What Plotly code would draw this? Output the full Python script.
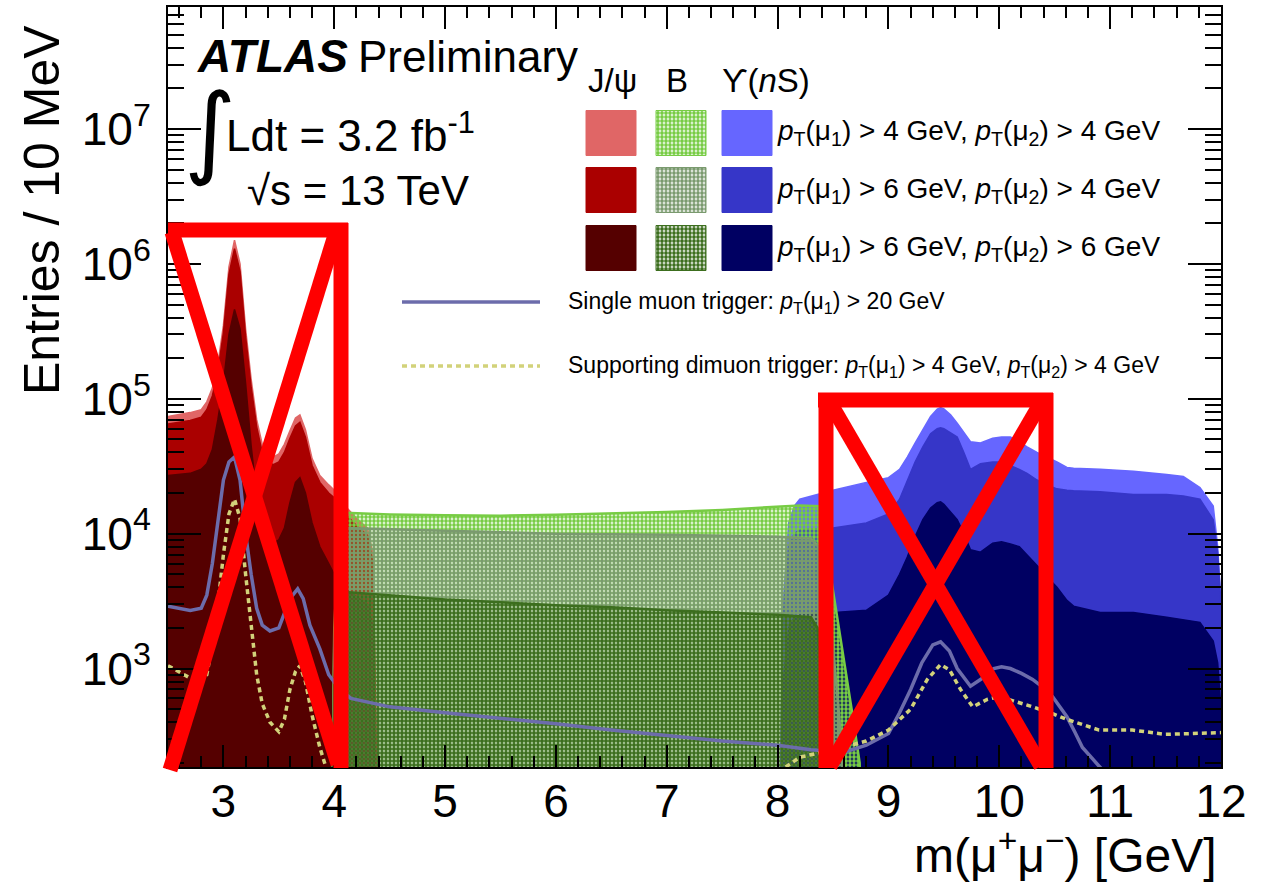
import plotly.graph_objects as go

# ---------------- data ----------------
JPSI_X = [2.50, 2.60, 2.70, 2.80, 2.85, 2.90, 2.95, 3.00, 3.05, 3.10, 3.15, 3.20, 3.25, 3.30, 3.35, 3.40,
          3.45, 3.50, 3.55, 3.60, 3.65, 3.69, 3.74, 3.80, 3.87, 3.95, 4.00, 4.10, 4.20, 4.30, 4.35, 4.40]
JPSI_PT44 = [7.4e4, 7.6e4, 7.9e4, 8.3e4, 9.5e4, 1.2e5, 1.8e5, 3.5e5, 9.5e5, 1.5e6, 1.0e6, 3.3e5, 1.4e5, 7.0e4, 4.6e4, 3.9e4,
             3.7e4, 3.9e4, 4.6e4, 5.8e4, 7.2e4, 7.6e4, 5.9e4, 3.6e4, 2.7e4, 2.3e4, 2.1e4, 1.6e4, 1.3e4, 1.1e4, 7.0e3, 30]
JPSI_PT64 = [6.5e4, 6.7e4, 6.9e4, 7.3e4, 8.3e4, 1.05e5, 1.6e5, 3.1e5, 8.4e5, 1.3e6, 8.8e5, 2.9e5, 1.23e5, 6.2e4, 4.0e4, 3.4e4,
             3.25e4, 3.4e4, 4.0e4, 5.1e4, 6.3e4, 6.7e4, 5.2e4, 3.2e4, 2.4e4, 2.0e4, 1.85e4, 1.4e4, 1.15e4, 9.7e3, 6.0e3, 25]
JPSI_PT66 = [2.7e4, 2.75e4, 2.8e4, 3.0e4, 3.3e4, 4.2e4, 7.0e4, 1.3e5, 3.0e5, 4.6e5, 3.3e5, 1.3e5, 4.5e4, 1.9e4, 1.1e4, 9.0e3,
             8.5e3, 9.0e3, 1.1e4, 1.7e4, 2.4e4, 2.6e4, 2.0e4, 1.2e4, 8.0e3, 6.0e3, 5.0e3, 4.0e3, 3.4e3, 3.0e3, 2.0e3, 10]

B44_X = [3.97, 4.00, 4.03, 4.07, 4.10, 4.50, 5.00, 5.50, 6.00, 6.50, 7.00, 7.50, 8.00, 8.20, 8.38, 8.45,
         8.50, 8.55, 8.62, 8.68, 8.74, 8.77]
B_PT44 = [10, 2.0e3, 6.0e3, 1.2e4, 1.43e4, 1.39e4, 1.37e4, 1.36e4, 1.38e4, 1.41e4, 1.45e4, 1.5e4, 1.58e4, 1.62e4, 1.6e4, 7.0e3,
          3.8e3, 2.1e3, 9.4e2, 4.3e2, 2.0e2, 10]
B64_X = [3.97, 4.00, 4.04, 4.08, 4.10, 5.00, 6.00, 7.00, 8.00, 8.30, 8.40, 8.45, 8.50, 8.55, 8.60, 8.63]
B_PT64 = [10, 1.5e3, 6.0e3, 1.05e4, 1.1e4, 1.05e4, 1.0e4, 9.8e3, 9.5e3, 9.2e3, 7.5e3, 4.0e3, 1.5e3, 5.0e2, 1.5e2, 10]
B66_X = [3.97, 4.00, 4.04, 4.08, 4.10, 4.50, 5.00, 5.50, 6.00, 6.50, 7.00, 7.50, 8.00, 8.30, 8.36, 8.42, 8.48, 8.51]
B_PT66 = [10, 8.0e2, 2.5e3, 3.6e3, 3.7e3, 3.5e3, 3.25e3, 3.1e3, 2.95e3, 2.85e3, 2.7e3, 2.6e3, 2.5e3, 2.4e3, 2.0e3, 6.0e2, 1.5e2, 10]

UPS_X = [8.00, 8.05, 8.10, 8.15, 8.20, 8.50, 8.80, 9.00, 9.10, 9.17, 9.24, 9.31, 9.38, 9.44, 9.47, 9.50,
         9.56, 9.62, 9.68, 9.74, 9.83, 9.94, 10.02, 10.10, 10.18, 10.25, 10.34, 10.43, 10.52, 10.61, 10.67, 10.91,
         11.21, 11.51, 11.66, 11.81, 11.93, 11.97, 12.00]
UPS_PT44 = [10, 3.0e3, 1.2e4, 1.6e4, 1.8e4, 2.1e4, 2.4e4, 2.6e4, 3.0e4, 3.7e4, 4.7e4, 5.9e4, 7.4e4, 8.4e4, 8.6e4, 8.4e4,
            7.6e4, 6.6e4, 5.6e4, 4.8e4, 4.7e4, 5.1e4, 5.2e4, 5.2e4, 4.8e4, 4.4e4, 4.0e4, 3.7e4, 3.4e4, 3.1e4, 3.05e4, 3.0e4,
            2.9e4, 2.75e4, 2.65e4, 2.2e4, 1.6e4, 8.0e3, 3.0e3]
UPS_PT64 = [10, 2.5e3, 8.0e3, 1.0e4, 1.07e4, 1.1e4, 1.2e4, 1.4e4, 1.8e4, 2.5e4, 3.4e4, 4.4e4, 5.5e4, 6.0e4, 6.1e4, 6.0e4,
            5.6e4, 5.2e4, 4.0e4, 3.0e4, 3.3e4, 3.4e4, 3.4e4, 3.2e4, 3.0e4, 2.8e4, 2.5e4, 2.3e4, 2.15e4, 2.1e4, 2.08e4, 2.05e4,
            1.95e4, 1.95e4, 1.9e4, 1.8e4, 1.27e4, 7.2e3, 3.0e3]
UPS_PT66 = [10, 8.0e2, 2.0e3, 2.4e3, 2.5e3, 2.6e3, 2.7e3, 3.5e3, 5.0e3, 6.7e3, 9.5e3, 1.27e4, 1.55e4, 1.7e4, 1.72e4, 1.65e4,
            1.45e4, 1.27e4, 1.0e4, 7.6e3, 7.3e3, 8.5e3, 8.7e3, 8.4e3, 8.0e3, 7.0e3, 5.8e3, 4.8e3, 4.0e3, 3.2e3, 2.9e3, 2.6e3,
            2.6e3, 2.4e3, 2.3e3, 2.2e3, 1.6e3, 1.1e3, 5.0e2]

MU20_X = [2.50, 2.60, 2.70, 2.80, 2.85, 2.90, 2.95, 3.00, 3.05, 3.10, 3.15, 3.20, 3.25, 3.30, 3.35, 3.42,
          3.50, 3.55, 3.60, 3.67, 3.72, 3.78, 3.87, 3.95, 4.05, 4.15, 4.50, 5.00, 5.50, 6.00, 6.50, 7.00,
          7.50, 8.00, 8.30, 8.60, 8.80, 9.00, 9.10, 9.20, 9.30, 9.40, 9.47, 9.55, 9.62, 9.74, 9.85, 9.95,
          10.02, 10.10, 10.20, 10.30, 10.40, 10.48, 10.55, 10.61, 10.68, 10.75, 10.85, 10.95, 11.20, 11.50, 12.00]
MU20_Y = [2.9e3, 2.8e3, 2.7e3, 2.8e3, 3.5e3, 6.0e3, 1.3e4, 2.5e4, 3.4e4, 3.7e4, 2.5e4, 1.0e4, 5.0e3, 2.8e3, 2.1e3, 1.9e3,
          2.0e3, 2.6e3, 3.3e3, 3.9e3, 3.3e3, 2.1e3, 1.4e3, 9.0e2, 7.0e2, 6.0e2, 5.2e2, 4.7e2, 4.3e2, 3.9e2, 3.5e2, 3.2e2,
          2.9e2, 2.7e2, 2.5e2, 2.4e2, 2.7e2, 3.3e2, 4.7e2, 7.0e2, 1.1e3, 1.5e3, 1.58e3, 1.35e3, 1.0e3, 7.4e2, 8.5e2, 1.0e3,
          1.03e3, 1.0e3, 9.2e2, 8.3e2, 7.2e2, 6.2e2, 5.2e2, 4.4e2, 3.4e2, 2.6e2, 2.1e2, 1.7e2, 1.5e2, 1.3e2, 1.1e2]

DIMU_X = [2.50, 2.60, 2.70, 2.80, 2.85, 2.90, 2.95, 3.00, 3.05, 3.10, 3.15, 3.20, 3.25, 3.30, 3.35, 3.42,
          3.50, 3.55, 3.60, 3.65, 3.69, 3.74, 3.80, 3.87, 3.93, 4.00, 4.20, 5.00, 6.00, 7.00, 7.80, 8.00,
          8.20, 8.50, 8.80, 9.00, 9.20, 9.35, 9.47, 9.55, 9.65, 9.76, 9.89, 10.00, 10.16, 10.30, 10.46, 10.61,
          10.90, 11.20, 11.50, 11.75, 12.00]
DIMU_Y = [1.05e3, 9.5e2, 8.5e2, 8.0e2, 9.0e2, 1.5e3, 3.0e3, 7.0e3, 1.4e4, 1.8e4, 1.3e4, 5.0e3, 2.0e3, 9.0e2, 5.5e2, 4.0e2,
          3.4e2, 4.2e2, 7.0e2, 9.5e2, 1.05e3, 8.0e2, 4.5e2, 2.6e2, 1.8e2, 1.2e2, 9.0e1, 7.0e1, 7.0e1, 9.0e1, 1.3e2, 1.7e2,
          2.2e2, 2.5e2, 2.9e2, 3.5e2, 5.0e2, 8.3e2, 1.07e3, 9.8e2, 7.0e2, 5.2e2, 5.9e2, 6.2e2, 5.6e2, 5.2e2, 4.7e2, 4.2e2,
          3.5e2, 3.5e2, 3.25e2, 3.3e2, 3.35e2]

X_TICKS = [3, 4, 5, 6, 7, 8, 9, 10, 11, 12]
Y_TICKS = [1e3, 1e4, 1e5, 1e6, 1e7]
Y_TICK_TEXT = ["10<sup>3</sup>", "10<sup>4</sup>", "10<sup>5</sup>", "10<sup>6</sup>", "10<sup>7</sup>"]

CUT_LABELS = ["<i>p</i><sub>T</sub>(μ<sub>1</sub>) > 4 GeV, <i>p</i><sub>T</sub>(μ<sub>2</sub>) > 4 GeV",
              "<i>p</i><sub>T</sub>(μ<sub>1</sub>) > 6 GeV, <i>p</i><sub>T</sub>(μ<sub>2</sub>) > 4 GeV",
              "<i>p</i><sub>T</sub>(μ<sub>1</sub>) > 6 GeV, <i>p</i><sub>T</sub>(μ<sub>2</sub>) > 6 GeV"]
HEADERS = ["J/ψ", "B", "ϒ(<i>n</i>S)"]

# ---------------- styles ----------------
RED = ["#e06666", "#aa0000", "#550000"]
GREEN = ["#77cc44", "#7a9a6e", "#3c6e1e"]
BLUE = ["#6666ff", "#3636c8", "#000062"]
MU20_COLOR = "#6c6cab"
DIMU_COLOR = "#d2d27a"
FONT = "Liberation Sans, Arial, Helvetica, sans-serif"

W, H = 1266, 886
PL, PR, PT, PB = 168, 1221, 7, 767


def fx(p):
    return (p - PL) / (PR - PL)


def fy(p):
    return (PB - p) / (PB - PT)


fig = go.Figure()


def add_hist(x, y, color, pattern=False):
    kw = dict(x=x, y=y, mode="lines", line=dict(color=color, width=1.5), fill="tozeroy",
              fillcolor=color, showlegend=False, hoverinfo="skip")
    if pattern:
        kw["fillpattern"] = dict(shape=".", size=4, solidity=0.7, fgcolor=color,
                                 bgcolor="rgba(0,0,0,0)", fillmode="replace")
        kw["line"] = dict(color=color, width=2.5)
    fig.add_trace(go.Scatter(**kw))


for yv, c in zip([JPSI_PT44, JPSI_PT64, JPSI_PT66], RED):
    add_hist(JPSI_X, yv, c)
for yv, c in zip([UPS_PT44, UPS_PT64, UPS_PT66], BLUE):
    add_hist(UPS_X, yv, c)
for xv, yv, c in zip([B44_X, B64_X, B66_X], [B_PT44, B_PT64, B_PT66], GREEN):
    add_hist(xv, yv, c, pattern=True)

fig.add_trace(go.Scatter(x=MU20_X, y=MU20_Y, mode="lines", line=dict(color=MU20_COLOR, width=3.5),
                         showlegend=False, hoverinfo="skip"))
fig.add_trace(go.Scatter(x=DIMU_X, y=DIMU_Y, mode="lines",
                         line=dict(color=DIMU_COLOR, width=3.5, dash="5px,4px"),
                         showlegend=False, hoverinfo="skip"))

# ---------------- custom legend (overlay axes in paper units) ----------------
col_cx = [611, 681, 747]
row_cy = [133, 190, 248]
bw, bh = 50, 45
for ci, cols in enumerate([RED, GREEN, BLUE]):
    for ri in range(3):
        x0, x1 = fx(col_cx[ci] - bw / 2), fx(col_cx[ci] + bw / 2)
        y0, y1 = fy(row_cy[ri] + bh / 2), fy(row_cy[ri] - bh / 2)
        kw = dict(x=[x0, x1, x1, x0, x0], y=[y0, y0, y1, y1, y0], xaxis="x2", yaxis="y2",
                  mode="lines", fill="toself", fillcolor=cols[ri], line=dict(color=cols[ri], width=1),
                  showlegend=False, hoverinfo="skip")
        if ci == 1:
            kw["fillpattern"] = dict(shape=".", size=4, solidity=0.7, fgcolor=cols[ri],
                                     bgcolor="rgba(0,0,0,0)", fillmode="replace")
        fig.add_trace(go.Scatter(**kw))

fig.add_trace(go.Scatter(x=[fx(402), fx(540)], y=[fy(302), fy(302)], xaxis="x2", yaxis="y2", mode="lines",
                         line=dict(color=MU20_COLOR, width=3.5), showlegend=False, hoverinfo="skip"))
fig.add_trace(go.Scatter(x=[fx(402), fx(540)], y=[fy(366), fy(366)], xaxis="x2", yaxis="y2", mode="lines",
                         line=dict(color=DIMU_COLOR, width=3.5, dash="5px,4px"), showlegend=False,
                         hoverinfo="skip"))

ann = []


def text(t, xp, yp, size, xanchor="left", family=FONT, yanchor="middle", **kw):
    ann.append(dict(text=t, x=fx(xp), y=fy(yp), xref="paper", yref="paper", xanchor=xanchor,
                    yanchor=yanchor, showarrow=False, font=dict(family=family, size=size, color="black"), **kw))


text("<b><i>ATLAS</i></b>", 195, 56, 46)
text("Preliminary", 356, 56, 44)
text("∫", 182, 130, 100, family="DejaVu Sans, sans-serif")
text("Ldt = 3.2 fb<sup>-1</sup>", 224, 132, 44)
text("√s = 13 TeV", 245, 190, 42)
for h, xp in zip(HEADERS, [586, 664, 720]):
    text(h, xp, 80, 33)
for lab, yp in zip(CUT_LABELS, row_cy):
    text(lab, 775, yp, 28)
text("Single muon trigger: <i>p</i><sub>T</sub>(μ<sub>1</sub>) > 20 GeV", 566, 302, 23)
text("Supporting dimuon trigger: <i>p</i><sub>T</sub>(μ<sub>1</sub>) > 4 GeV, <i>p</i><sub>T</sub>(μ<sub>2</sub>) > 4 GeV",
     566, 366, 23)
text("Entries / 10 MeV", 42, 210, 50, xanchor="center", textangle=-90)
text("m(μ<sup>+</sup>μ<sup>−</sup>) [GeV]", PR - 2, 884, 48, xanchor="right", yanchor="bottom")

# ---------------- red cross-out marks ----------------
shapes = []


def seg(x0, y0, x1, y1):
    shapes.append(dict(type="line", xref="paper", yref="paper", x0=fx(x0), y0=fy(y0), x1=fx(x1), y1=fy(y1),
                       line=dict(color="#ff0000", width=15), layer="above"))


seg(168, 230, 348, 230)
seg(341, 223, 341, 768)
seg(172, 232, 338, 764)
seg(336, 232, 170, 770)
seg(818, 400, 1053, 400)
seg(826, 393, 826, 768)
seg(1046, 393, 1046, 768)
seg(832, 406, 1041, 766)
seg(1039, 406, 830, 766)

axis_common = dict(showline=True, linecolor="black", linewidth=2, mirror="allticks", ticks="inside",
                   tickcolor="black", tickwidth=1.5, showgrid=False, zeroline=False, automargin=False,
                   tickfont=dict(family=FONT, size=46, color="black"))

fig.update_layout(
    width=W, height=H,
    margin=dict(l=PL, r=W - PR, t=PT, b=H - PB),
    paper_bgcolor="white", plot_bgcolor="white",
    showlegend=False,
    xaxis=dict(range=[2.5, 12], tickvals=X_TICKS, ticklen=22, ticklabelstandoff=-7,
               minor=dict(ticks="inside", ticklen=11, dtick=0.2, tickcolor="black", tickwidth=1.5),
               **axis_common),
    yaxis=dict(type="log", range=[2.27, 7.905], tickvals=Y_TICKS, ticktext=Y_TICK_TEXT, ticklen=33,
               ticklabelstandoff=6,
               minor=dict(ticks="inside", ticklen=16, dtick="D1", tickcolor="black", tickwidth=1.5),
               **axis_common),
    xaxis2=dict(overlaying="x", range=[0, 1], visible=False, anchor="y2", automargin=False),
    yaxis2=dict(overlaying="y", range=[0, 1], visible=False, anchor="x2", automargin=False),
    annotations=ann,
    shapes=shapes,
)

fig.write_html("out.html", config={"displayModeBar": False},
               post_script="document.body.style.margin='0px';document.body.style.overflow='hidden';")
